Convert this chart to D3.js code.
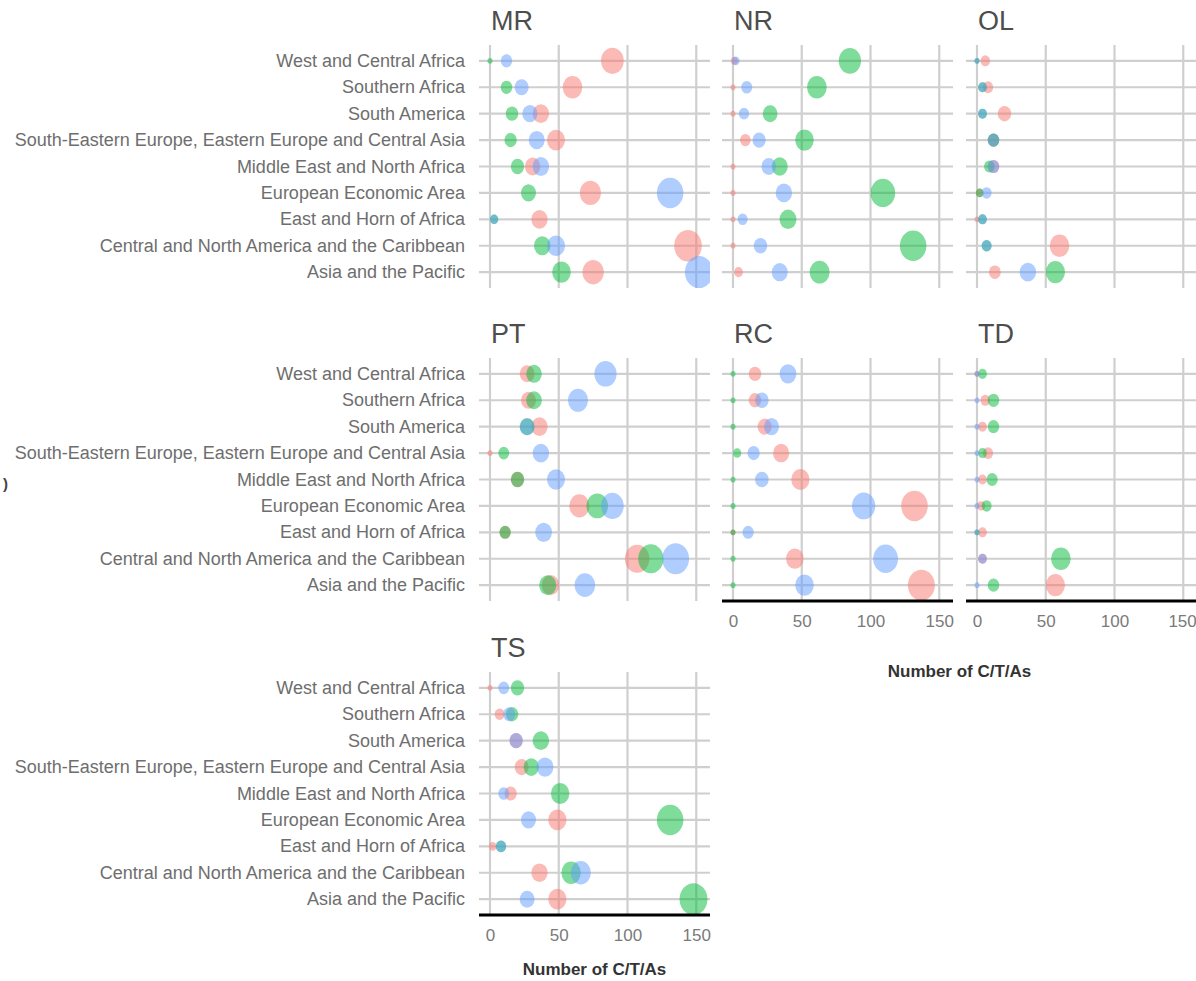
<!DOCTYPE html>
<html>
<head>
<meta charset="utf-8">
<script src="https://cdn.jsdelivr.net/npm/d3@7"></script>
<style>
  html, body { margin: 0; padding: 0; background: #fff; }
  svg { display: block; font-family: "Liberation Sans", Arial, sans-serif; }
</style>
</head>
<body>
<svg id="chart" width="1196" height="981"></svg>
<script>
// ---------------- DATA ----------------
const categories = [
  "West and Central Africa",
  "Southern Africa",
  "South America",
  "South-Eastern Europe, Eastern Europe and Central Asia",
  "Middle East and North Africa",
  "European Economic Area",
  "East and Horn of Africa",
  "Central and North America and the Caribbean",
  "Asia and the Pacific"
];
const panels = ["MR", "NR", "OL", "PT", "RC", "TD", "TS"];
const seriesNames = ["Series 1", "Series 2", "Series 3"];
const seriesColors = ["#F8766D", "#00BA38", "#619CFF"];
const xTicks = [0, 50, 100, 150];
const xTitle = "Number of C/T/As";

const MR_s1 = [89, 60, 37, 48, 31, 73, 36, 144, 75];
const MR_s2 = [0, 12, 16, 15, 20, 28, 3, 38, 52];
const MR_s3 = [12, 23, 29, 34, 37, 131, 3, 48, 152];

const NR_s1 = [1, 0, 0, 9, 0, 0, 0, 0, 4];
const NR_s2 = [85, 61, 27, 52, 34, 109, 40, 131, 63];
const NR_s3 = [2, 10, 8, 19, 26, 37, 7, 20, 34];

const OL_s1 = [6, 8, 20, 12, 12, 2, 0, 60, 13];
const OL_s2 = [0, 4, 4, 12, 9, 2, 4, 7, 57];
const OL_s3 = [0, 4, 4, 12, 12, 7, 4, 7, 37];

const PT_s1 = [27, 28, 36, 0, 20, 65, 11, 107, 44];
const PT_s2 = [32, 32, 27, 10, 20, 78, 11, 117, 42];
const PT_s3 = [84, 64, 27, 37, 48, 89, 39, 135, 69];

const RC_s1 = [16, 16, 23, 35, 49, 132, 0, 45, 137];
const RC_s2 = [0, 0, 0, 3, 0, 0, 0, 0, 0];
const RC_s3 = [40, 21, 28, 15, 21, 95, 11, 111, 52];

const TD_s1 = [0, 6, 4, 8, 4, 3, 4, 4, 57];
const TD_s2 = [4, 12, 12, 4, 11, 7, 0, 61, 12];
const TD_s3 = [0, 0, 0, 0, 0, 0, 0, 4, 0];

const TS_s1 = [0, 7, 19, 23, 15, 49, 2, 36, 49];
const TS_s2 = [20, 16, 37, 30, 51, 131, 8, 59, 148];
const TS_s3 = [10, 14, 19, 40, 10, 28, 8, 66, 27];

const panelData = {
  MR: [MR_s1, MR_s2, MR_s3],
  NR: [NR_s1, NR_s2, NR_s3],
  OL: [OL_s1, OL_s2, OL_s3],
  PT: [PT_s1, PT_s2, PT_s3],
  RC: [RC_s1, RC_s2, RC_s3],
  TD: [TD_s1, TD_s2, TD_s3],
  TS: [TS_s1, TS_s2, TS_s3]
};

// ---------------- LAYOUT ----------------
const colLeft = [479, 722, 966];
const rowTop = [45, 358, 672];
const panelW = 231, panelH = 243;
const placement = {
  MR: [0, 0], NR: [0, 1], OL: [0, 2],
  PT: [1, 0], RC: [1, 1], TD: [1, 2],
  TS: [2, 0]
};
const withAxis = { RC: true, TD: true, TS: true };
const titleBaseline = { 1: 677, 2: 975 };

const svg = d3.select("#chart");
const defs = svg.append("defs");

const rScale = d3.scaleSqrt().domain([0, 150]).range([0, 11.5]);
const rMin = 2.5;
const ryRatio = 1.15;

panels.forEach((p) => {
  const [row, col] = placement[p];
  const x0 = colLeft[col], y0 = rowTop[row];
  const x = d3.scaleLinear().domain([-8, 160]).range([x0, x0 + panelW]);
  const y = d3.scalePoint().domain(categories).range([y0, y0 + panelH]).padding(0.6);

  const g = svg.append("g");

  // strip title
  g.append("text")
    .attr("x", x0 + 12).attr("y", y0 - 15)
    .attr("font-size", 27).attr("fill", "#4d4d4d")
    .text(p);

  // grid
  g.append("g").selectAll("line").data(categories).join("line")
    .attr("x1", x0).attr("x2", x0 + panelW)
    .attr("y1", d => y(d)).attr("y2", d => y(d))
    .attr("stroke", "#cfcfcf").attr("stroke-width", 2.2);
  g.append("g").selectAll("line").data(xTicks).join("line")
    .attr("x1", d => x(d)).attr("x2", d => x(d))
    .attr("y1", y0).attr("y2", y0 + panelH)
    .attr("stroke", "#cfcfcf").attr("stroke-width", 2.2);

  // category labels
  if (col === 0) {
    g.append("g").selectAll("text").data(categories).join("text")
      .attr("x", x0 - 14).attr("y", d => y(d))
      .attr("text-anchor", "end").attr("dominant-baseline", "central")
      .attr("font-size", 18).attr("fill", "#6e6e6e")
      .text(d => d);
  }

  // clip
  const cid = "clip-" + p;
  defs.append("clipPath").attr("id", cid).append("rect")
    .attr("x", x0).attr("y", y0).attr("width", panelW).attr("height", panelH);

  const pts = [];
  panelData[p].forEach((vals, si) => {
    vals.forEach((v, ci) => pts.push({ v, si, c: categories[ci] }));
  });
  g.append("g").attr("clip-path", `url(#${cid})`)
    .selectAll("ellipse").data(pts).join("ellipse")
    .attr("cx", d => x(d.v)).attr("cy", d => y(d.c))
    .attr("rx", d => rMin + rScale(d.v))
    .attr("ry", d => (rMin + rScale(d.v)) * ryRatio)
    .attr("fill", d => seriesColors[d.si])
    .attr("fill-opacity", 0.5);

  if (withAxis[p]) {
    const ax = g.append("g").attr("transform", `translate(0,${y0 + panelH})`)
      .call(d3.axisBottom(x).tickValues(xTicks).tickSize(0).tickPadding(14));
    ax.select(".domain").attr("stroke", "#000").attr("stroke-width", 3)
      .attr("d", `M${x0},0H${x0 + panelW}`);
    ax.selectAll(".tick text").attr("font-size", 17).attr("fill", "#7a7a7a")
      .attr("font-family", "Liberation Sans, Arial, sans-serif");
    if (col === 2) {
      ax.selectAll(".tick").filter(d => d === 150).select("text")
        .attr("text-anchor", "end").attr("dx", 13);
    }
  }
});

// x-axis titles
svg.append("text")
  .attr("x", (colLeft[1] + colLeft[2] + panelW) / 2).attr("y", titleBaseline[1])
  .attr("text-anchor", "middle").attr("font-size", 17).attr("font-weight", "bold")
  .attr("fill", "#333").text(xTitle);
svg.append("text")
  .attr("x", colLeft[0] + panelW / 2).attr("y", titleBaseline[2])
  .attr("text-anchor", "middle").attr("font-size", 17).attr("font-weight", "bold")
  .attr("fill", "#333").text(xTitle);

// stray glyph at left edge (cropped y title)
svg.append("text").attr("x", 3).attr("y", 489)
  .attr("font-size", 15).attr("font-weight", "bold").attr("fill", "#444").text(")");
</script>
</body>
</html>
